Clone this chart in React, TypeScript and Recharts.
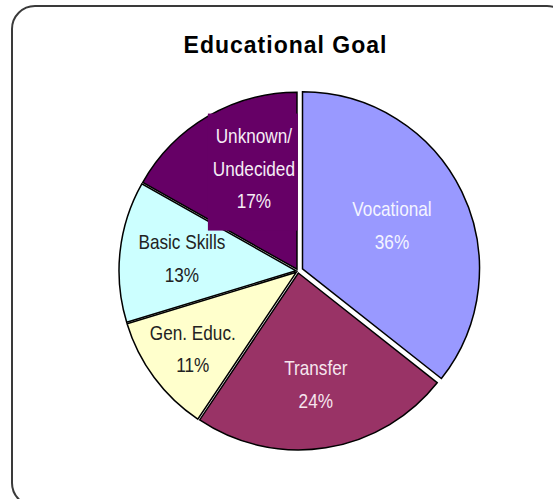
import { Cell, Pie, PieChart } from 'recharts';

const goals = ['Vocational', 'Transfer', 'Gen. Educ.', 'Basic Skills', 'Unknown/Undecided'];
const shares = [36, 24, 11, 13, 17];
const labelLines = [['Vocational'], ['Transfer'], ['Gen. Educ.'], ['Basic Skills'], ['Unknown/', 'Undecided']];

const colors = ['#9999FF', '#993366', '#FFFFCC', '#CCFFFF', '#660066'];
const textColors = ['#f4f4ff', '#f6e6ee', '#222222', '#222222', '#f6eef6'];
// how far each slice is pulled out, and where its label sits
const explode = [5, 2, 2, 2, 2];
const labelDist = [0.59, 0.65, 0.74, 0.66, 0.63];
const labelTurn = [0, 0, 0, 0, -7];

const data = goals.map((name, i) => ({ name, value: shares[i] }));

const CX = 298;
const CY = 271;
const R = 177;
const RAD = Math.PI / 180;
const FONT = '"Liberation Sans", Arial, sans-serif';
const SQUEEZE = 0.86; // no narrow font installed, so squeeze the normal one

const total = shares.reduce((a, b) => a + b, 0);
const midAngles = shares.map((v, i) => {
  const before = shares.slice(0, i).reduce((a, b) => a + b, 0);
  return 90 - ((before + v / 2) / total) * 360;
});

function renderLabel(props: any) {
  const { cx, cy, midAngle, outerRadius, index, value } = props;
  const ang = (midAngle + labelTurn[index]) * RAD;
  const r = outerRadius * labelDist[index];
  const x = cx + r * Math.cos(-ang);
  const y = cy + r * Math.sin(-ang);
  const lines = [...labelLines[index], `${value}%`];
  const lh = 32.5;
  const top = y - ((lines.length - 1) * lh) / 2;
  return (
    <g key={`lbl-${index}`}>
      {index === 4 && <rect x={x - 46} y={y - 55} width={90} height={117} fill={colors[4]} />}
      <g transform={`translate(${x},0) scale(${SQUEEZE},1)`}>
        <text textAnchor='middle' fill={textColors[index]} fontSize={20} fontFamily={FONT}>
          {lines.map((l, k) => (
            <tspan key={k} x={0} y={top + k * lh} dominantBaseline='central'>
              {l}
            </tspan>
          ))}
        </text>
      </g>
    </g>
  );
}

export default function App() {
  return (
    <div
      style={{
        position: 'absolute',
        left: 0,
        top: 0,
        width: 553,
        height: 499,
        overflow: 'hidden',
        background: '#fff',
      }}
    >
      <div
        style={{
          position: 'absolute',
          left: 11,
          top: 5,
          width: 560,
          height: 502,
          border: '2px solid #3a3a3a',
          borderRadius: 24,
          boxSizing: 'border-box',
        }}
      />
      <div
        style={{
          position: 'absolute',
          left: 0,
          top: 34,
          width: 571,
          textAlign: 'center',
          fontFamily: '"Liberation Sans", Arial, sans-serif',
          fontWeight: 'bold',
          fontSize: 23,
          lineHeight: '23px',
          letterSpacing: 1,
          color: '#000',
        }}
      >
        Educational Goal
      </div>
      <div style={{ position: 'absolute', left: 0, top: 0 }}>
        <PieChart width={553} height={499} margin={{ top: 0, right: 0, bottom: 0, left: 0 }}>
          {goals.map((g, i) => (
            <Pie
              key={g}
              data={data}
              dataKey='value'
              nameKey='name'
              cx={CX + explode[i] * Math.cos(-midAngles[i] * RAD)}
              cy={CY + explode[i] * Math.sin(-midAngles[i] * RAD)}
              outerRadius={R}
              startAngle={90}
              endAngle={-270}
              isAnimationActive={false}
              labelLine={false}
            >
              {data.map((d, k) => (
                <Cell
                  key={d.name}
                  fill={k === i ? colors[k] : 'none'}
                  stroke={k === i ? '#000' : 'none'}
                  strokeWidth={1.5}
                />
              ))}
            </Pie>
          ))}
          <Pie
            data={data}
            dataKey='value'
            nameKey='name'
            cx={CX}
            cy={CY}
            outerRadius={R}
            startAngle={90}
            endAngle={-270}
            isAnimationActive={false}
            labelLine={false}
            label={renderLabel}
            fill='none'
            stroke='none'
          >
            {data.map((d) => (
              <Cell key={d.name} fill='none' stroke='none' />
            ))}
          </Pie>
        </PieChart>
      </div>
    </div>
  );
}
